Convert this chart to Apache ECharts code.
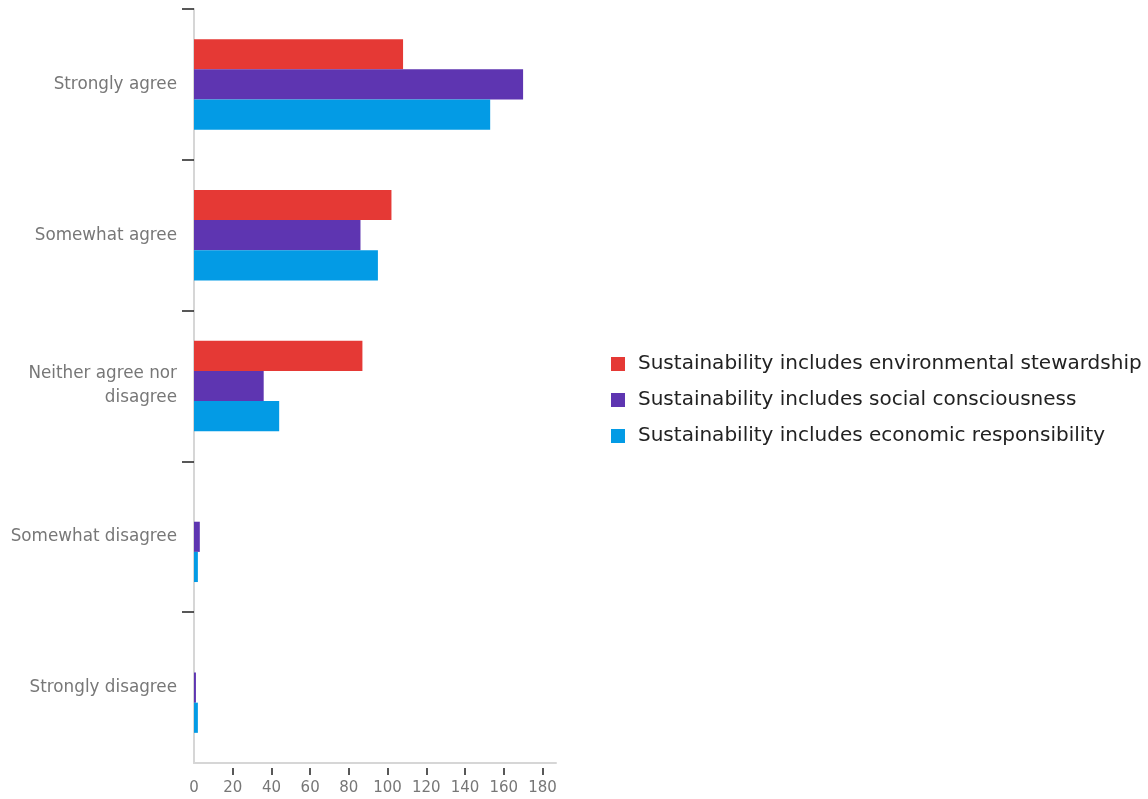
<!DOCTYPE html>
<html>
<head>
<meta charset="utf-8">
<script src="https://cdn.jsdelivr.net/npm/echarts@6/dist/echarts.min.js"></script>
<style>
html,body{margin:0;padding:0;background:#fff;}
#c{width:1148px;height:799px;}
</style>
</head>
<body>
<div id="c"></div>
<script>
const categories = ['Strongly agree', 'Somewhat agree', 'Neither agree nor\ndisagree', 'Somewhat disagree', 'Strongly disagree'];
const seriesNames = [
  'Sustainability includes environmental stewardship',
  'Sustainability includes social consciousness',
  'Sustainability includes economic responsibility'
];
const environmental = [108, 102, 87, 0, 0];
const social = [170, 86, 36, 3, 1];
const economic = [153, 95, 44, 2, 2];
const xTicks = [0, 20, 40, 60, 80, 100, 120, 140, 160, 180];
const colors = ['#e53935', '#5e35b1', '#039be5'];

const chart = echarts.init(document.getElementById('c'));
const font = '"DejaVu Sans", sans-serif';
const seriesData = [environmental, social, economic];
const yBoundaryTicks = categories.map((c, i) => i);
chart.setOption({
  animation: false,
  grid: { left: 194, right: 592, top: 9, bottom: 36 },
  legend: {
    orient: 'vertical',
    left: 606,
    top: 349,
    itemWidth: 14,
    itemHeight: 14,
    itemGap: 16,
    icon: 'rect',
    textStyle: { fontFamily: font, fontSize: 20, lineHeight: 20, color: '#222', padding: [0, 0, 0, 8] },
    data: seriesNames
  },
  xAxis: [{
    type: 'value',
    min: 0,
    max: 187,
    position: 'bottom',
    offset: 5,
    splitLine: { show: false },
    axisLine: { show: false, onZero: false },
    axisTick: { show: true, length: 7, lineStyle: { color: '#222', width: 1.5 }, customValues: xTicks.slice(1) },
    axisLabel: { customValues: xTicks, fontFamily: font, fontSize: 15, color: '#777', margin: 13 }
  }, {
    type: 'value',
    min: 0,
    max: 187,
    position: 'bottom',
    splitLine: { show: false },
    axisLine: { show: true, onZero: false, lineStyle: { color: '#d6d6d6', width: 2 } },
    axisTick: { show: false },
    axisLabel: { show: false }
  }],
  yAxis: [{
    type: 'category',
    inverse: true,
    position: 'left',
    data: categories,
    axisLine: { show: true, onZero: false, lineStyle: { color: '#d6d6d6', width: 2 } },
    axisTick: { show: false },
    axisLabel: { fontFamily: font, fontSize: 16.8, color: '#777', margin: 17, lineHeight: 24, align: 'right', padding: [6, 0, 0, 0] }
  }, {
    type: 'value',
    inverse: true,
    min: 0,
    max: categories.length,
    position: 'left',
    splitLine: { show: false },
    axisLine: { show: false, onZero: false },
    axisTick: { show: true, length: 12, lineStyle: { color: '#222', width: 1.5 }, customValues: yBoundaryTicks },
    axisLabel: { show: false }
  }],
  series: seriesNames.map((n, i) => ({
    name: n,
    type: 'bar',
    xAxisIndex: 0,
    yAxisIndex: 0,
    data: seriesData[i],
    itemStyle: { color: colors[i] },
    barGap: '0%',
    barCategoryGap: '40%'
  }))
});
</script>
</body>
</html>
